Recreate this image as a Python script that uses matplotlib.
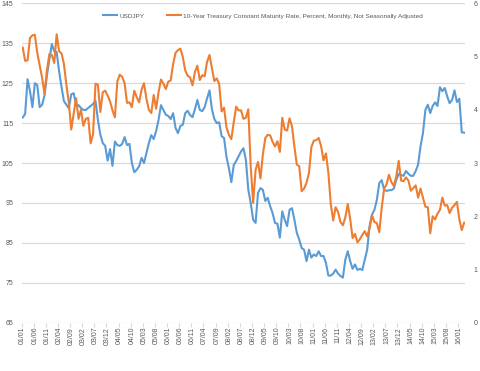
import numpy as np
import pandas as pd
import matplotlib
matplotlib.use("Agg")
import matplotlib.pyplot as plt
from matplotlib.lines import Line2D

plt.rcParams['font.family'] = ['Liberation Sans', 'DejaVu Sans']

# Monthly categories 2001/01 .. 2016/03
months = pd.period_range("2001-01", "2016-03", freq="M")
labels = [p.strftime("%y/%m") for p in months]

usdjpy = [
    116.4, 117.3, 126.0, 123.0, 119.0, 125.0, 124.5, 119.0, 119.6, 122.0,
    127.0, 131.0, 134.8, 133.0, 132.8, 128.0, 124.0, 120.5, 119.6, 118.7,
    122.2, 122.5, 119.5, 119.5, 118.8, 118.3, 118.3, 118.8, 119.3, 119.8,
    120.6, 115.8, 112.1, 110.0, 109.3, 105.6, 108.5, 104.3, 110.4, 109.5,
    109.3, 109.8, 111.5, 109.5, 109.8, 105.0, 102.7, 103.3, 104.2, 106.3,
    105.0, 107.5, 110.0, 112.0, 111.0, 113.0, 115.8, 119.5, 118.3, 117.1,
    116.8, 116.0, 117.5, 113.8, 112.5, 114.3, 114.6, 117.5, 118.1, 117.0,
    116.5, 118.5, 120.8, 118.3, 118.0, 119.0, 121.2, 123.2, 118.5, 116.0,
    115.0, 115.2, 111.7, 111.3, 106.5, 103.7, 100.2, 104.5, 105.5, 106.7,
    107.9, 108.7, 105.8, 98.3, 95.0, 90.8, 90.0, 97.5, 98.7, 98.3,
    95.5, 96.3, 94.2, 92.5, 90.0, 89.8, 86.3, 92.9, 90.8, 89.2,
    93.3, 93.7, 90.8, 87.5, 85.8, 83.7, 83.3, 80.4, 83.3, 81.3,
    82.1, 81.7, 82.9, 81.7, 81.7, 80.0, 76.8, 76.8, 77.3, 78.3,
    77.3, 76.7, 76.3, 80.8, 82.9, 80.4, 78.5, 79.6, 78.2, 78.5,
    78.2, 80.8, 83.3, 89.2, 92.1, 93.3, 95.8, 100.0, 100.7, 98.3,
    98.0, 98.2, 98.2, 98.6, 100.8, 102.3, 102.0, 101.8, 103.0, 102.3,
    101.8, 101.8, 103.0, 104.6, 109.2, 112.5, 118.3, 119.6, 117.5, 119.3,
    120.2, 119.3, 124.0, 123.0, 123.8, 121.7, 120.0, 120.8, 123.2, 120.3,
    121.1, 112.7, 112.6,
]

treasury10y = [
    5.17, 4.92, 4.93, 5.35, 5.40, 5.41, 5.07, 4.83, 4.60, 4.30, 4.75, 5.05,
    5.03, 4.88, 5.42, 5.10, 5.06, 4.86, 4.47, 4.14, 3.63, 3.93, 4.22, 3.83,
    4.00, 3.70, 3.83, 3.85, 3.37, 3.54, 4.49, 4.47, 3.96, 4.33, 4.36, 4.27,
    4.16, 3.99, 3.86, 4.53, 4.66, 4.62, 4.50, 4.13, 4.14, 4.05, 4.36, 4.24,
    4.14, 4.38, 4.50, 4.21, 4.00, 3.94, 4.28, 4.02, 4.33, 4.57, 4.49, 4.39,
    4.53, 4.55, 4.86, 5.07, 5.12, 5.15, 4.99, 4.74, 4.64, 4.61, 4.46, 4.71,
    4.83, 4.56, 4.65, 4.63, 4.90, 5.03, 4.78, 4.54, 4.59, 4.48, 3.97, 4.04,
    3.67, 3.53, 3.45, 3.77, 4.06, 3.99, 3.99, 3.83, 3.85, 4.01, 2.93, 2.25,
    2.87, 3.02, 2.71, 3.16, 3.47, 3.53, 3.52, 3.40, 3.31, 3.41, 3.21, 3.85,
    3.63, 3.61, 3.84, 3.69, 3.31, 2.97, 2.94, 2.47, 2.52, 2.63, 2.81, 3.30,
    3.42, 3.43, 3.47, 3.32, 3.05, 3.18, 2.82, 2.23, 1.92, 2.17, 2.08, 1.89,
    1.83, 1.98, 2.23, 1.95, 1.59, 1.67, 1.51, 1.57, 1.65, 1.72, 1.62, 1.78,
    2.02, 1.89, 1.87, 1.70, 2.16, 2.52, 2.60, 2.78, 2.64, 2.57, 2.75, 3.04,
    2.67, 2.66, 2.73, 2.67, 2.48, 2.53, 2.58, 2.35, 2.52, 2.35, 2.18, 2.17,
    1.68, 2.00, 1.94, 2.05, 2.12, 2.35, 2.20, 2.21, 2.06, 2.16, 2.21, 2.27,
    1.94, 1.74, 1.88,
]

left_ticks = [65, 75, 85, 95, 105, 115, 125, 135, 145]
right_ticks = [0, 1, 2, 3, 4, 5, 6]

BLUE = "#5B9BD5"
ORANGE = "#ED7D31"
GRID = "#D9D9D9"
TXT = "#595959"

n = len(labels)
x = np.arange(n)

fig = plt.figure(figsize=(4.8, 3.71), dpi=100)
ax = fig.add_axes([0.0448, 0.1302, 0.9248, 0.8607])
ax2 = ax.twinx()

ax.plot(x, usdjpy, color=BLUE, lw=1.5, solid_joinstyle='round')
ax2.plot(x, treasury10y, color=ORANGE, lw=1.5, solid_joinstyle='round')

ax.set_xlim(-0.5, n - 0.5)
ax.set_ylim(left_ticks[0], left_ticks[-1])
ax.set_yticks(left_ticks)
ax2.set_ylim(right_ticks[0], right_ticks[-1])
ax2.set_yticks(right_ticks)

step = 5
ax.set_xticks(x[::step])
ax.set_xticklabels(labels[::step], rotation=90, fontsize=5, color=TXT)
ax.set_xticks(x[::step] - 0.5, minor=True)
ax.tick_params(axis='x', which='major', length=0, pad=3)
ax.tick_params(axis='x', which='minor', length=3, color=GRID, width=0.8)
ax.tick_params(axis='y', length=0, labelsize=5, labelcolor=TXT, pad=6)
ax2.tick_params(axis='y', length=0, labelsize=5, labelcolor=TXT, pad=6)

for a in (ax, ax2):
    for s in a.spines.values():
        s.set_visible(False)
ax.yaxis.grid(True, color=GRID, lw=0.9)
ax.set_axisbelow(True)

handles = [Line2D([], [], color=BLUE, lw=1.5), Line2D([], [], color=ORANGE, lw=1.5)]
names = ["USDJPY", "10-Year Treasury Constant Maturity Rate, Percent, Monthly, Not Seasonally Adjusted"]
leg = fig.legend(handles, names, loc='center', bbox_to_anchor=(0.548, 0.957), ncol=2,
                 frameon=False, fontsize=4.6, handlelength=2.2, handletextpad=0.3,
                 columnspacing=3.6, labelcolor=TXT)

fig.savefig("out.png", dpi=100)
